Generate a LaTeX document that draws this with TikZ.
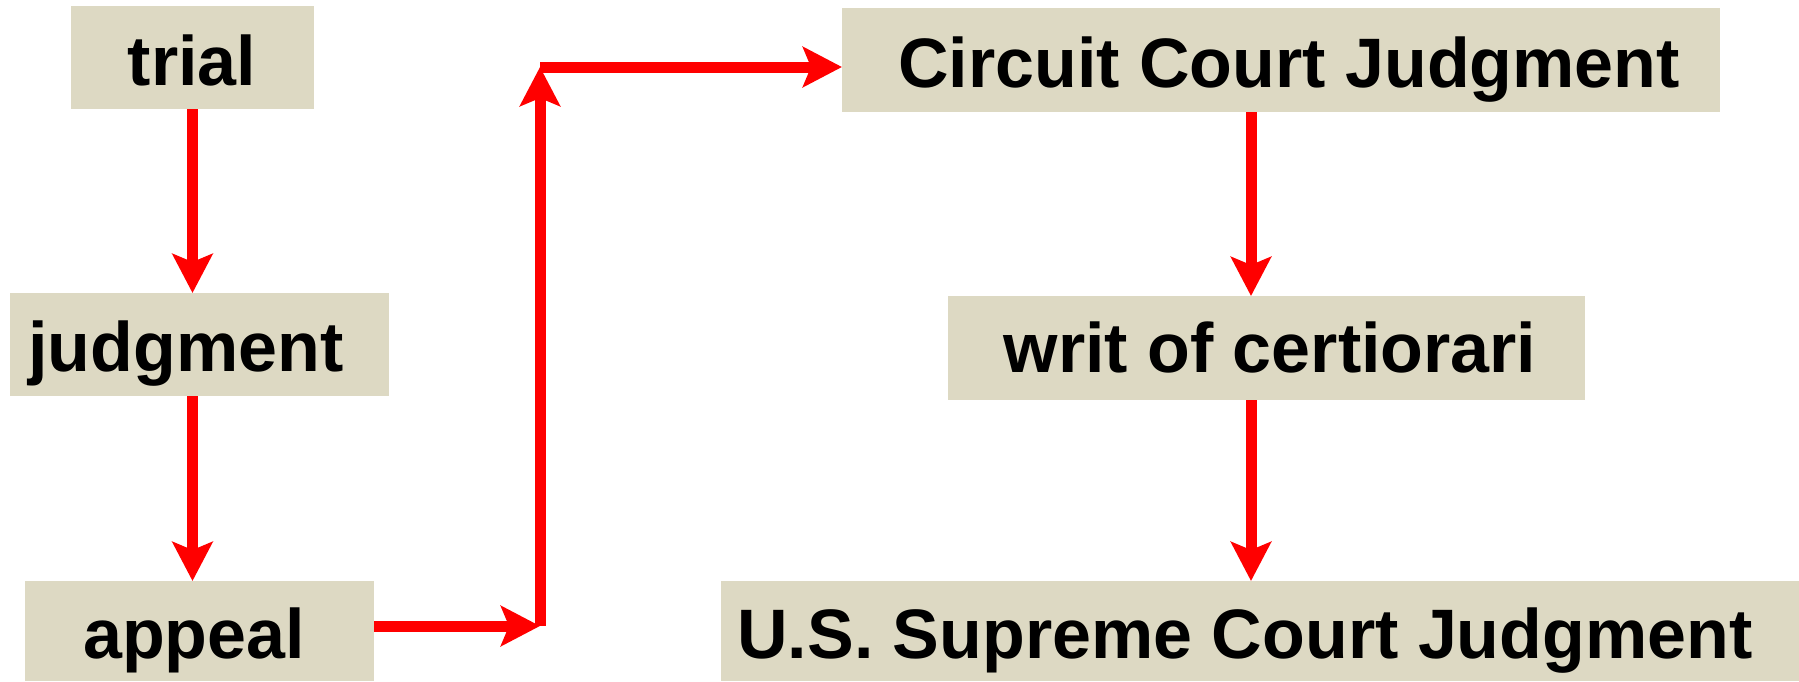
\documentclass[tikz,border=0pt]{standalone}
\usepackage{fontspec}
\setmainfont{Liberation Sans}
\usetikzlibrary{arrows.meta}
\definecolor{boxfill}{RGB}{221,217,195}
\definecolor{arrowred}{RGB}{255,0,0}
\begin{document}
\begin{tikzpicture}[x=0.5pt,y=-0.5pt,
  box/.style={fill=boxfill,draw=none,inner sep=0pt,outer sep=0pt},
  lbl/.style={anchor=base,inner sep=0pt,font=\fontsize{35pt}{40pt}\selectfont\bfseries},
  arr/.style={draw=arrowred,line width=5.5pt,-{Stealth[length=19.5pt,width=20pt,inset=4pt]}}]
\useasboundingbox (0,0) rectangle (1799,681);
% boxes
\node[box,minimum width=121.5pt,minimum height=51.5pt] (trial) at (192.5,57.5) {};
\node[box,minimum width=189.5pt,minimum height=51.5pt] (judgment) at (199.5,344.5) {};
\node[box,minimum width=174.5pt,minimum height=50pt] (appeal) at (199.5,631) {};
\node[box,minimum width=439pt,minimum height=52pt] (circuit) at (1281,60) {};
\node[box,minimum width=318.5pt,minimum height=52pt] (writ) at (1266.5,348) {};
\node[box,minimum width=539pt,minimum height=50pt] (ussc) at (1260,631) {};
% labels
\node[lbl] (ttrial) at (192,85) {trial};
\node[lbl] (tjudgment) at (186,371) {judgment};
\node[lbl] (tappeal) at (194,658) {appeal};
\node[lbl] (tcircuit) at (1289,87) {Circuit Court Judgment};
\node[lbl] (twrit) at (1270,372) {writ of certiorari};
\node[lbl] (tussc) at (1245,658) {U.S. Supreme Court Judgment};
% connectors
\coordinate (c1) at (540,626);
\coordinate (c2) at (540,67);
\coordinate (c3) at (1251,200);
\draw[arr] (trial.south) -- (trial.south |- judgment.north);
\draw[arr] (trial.south |- judgment.south) -- (trial.south |- appeal.north);
\draw[arr] (appeal.east |- c1) -- (c1);
\draw[arr] (c1) -- (c2);
\draw[arr] (c2) -- (c2 -| circuit.west);
\draw[arr] (c3 |- circuit.south) -- (c3 |- writ.north);
\draw[arr] (c3 |- writ.south) -- (c3 |- ussc.north);
\end{tikzpicture}
\end{document}
